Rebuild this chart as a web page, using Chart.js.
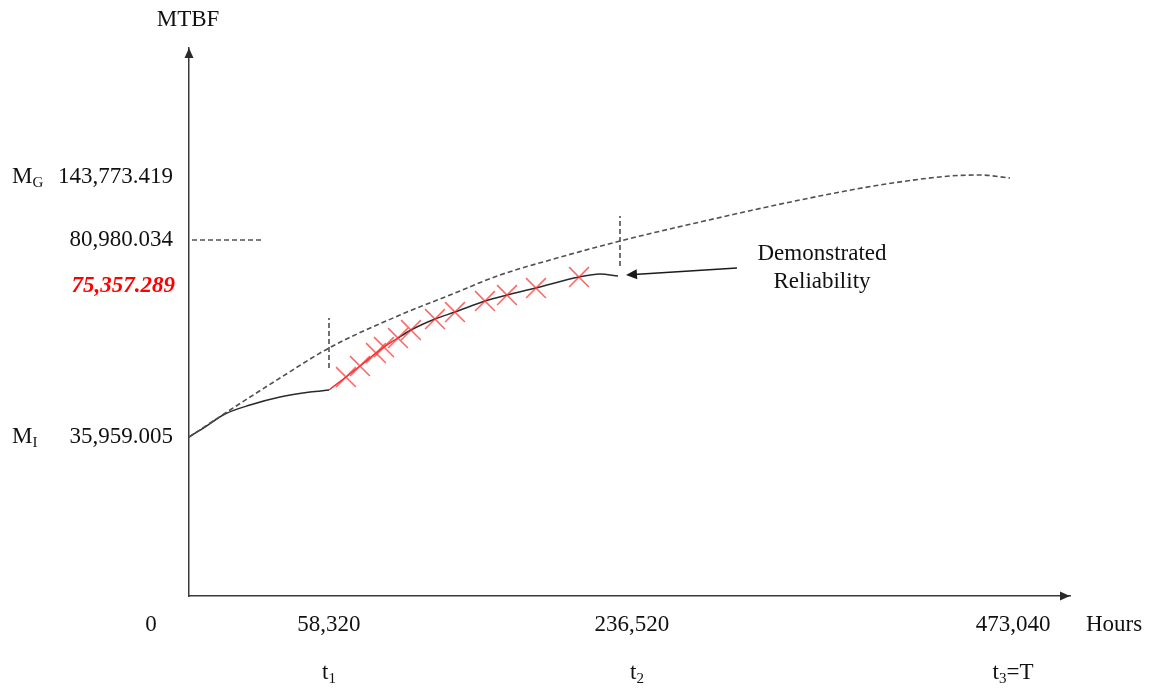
<!DOCTYPE html>
<html>
<head>
<meta charset="utf-8">
<script src="https://cdn.jsdelivr.net/npm/chart.js@4.4.0/dist/chart.umd.min.js"></script>
<style>
  html, body { margin: 0; padding: 0; background: #fff; }
</style>
</head>
<body>
<canvas id="chart" width="1150" height="690"></canvas>
<script>
// Reliability growth sketch: planned growth vs demonstrated MTBF

// axis marks
const hourMarks = [0, 58320, 236520, 473040];
const hourLabels = ['0', '58,320', '236,520', '473,040'];
const mtbfMarks = [0, 35959.005, 75357.289, 80980.034, 143773.419];
const mtbfLabels = ['', '35,959.005', '75,357.289', '80,980.034', '143,773.419'];

// planned growth curve (dashed)
const plannedHours = [0, 17079, 37908, 58320, 101798, 132417, 163035, 193654, 236520, 285037, 345683, 394200, 436652, 454846, 473040];
const plannedMtbf = [35959, 42566, 50397, 57738, 65814, 70708, 75513, 77856, 80824, 98921, 120849, 135800, 144054, 144335, 142777];

// initial phase up to t1
const initialHours = [0, 6665, 14997, 25411, 37908, 50405, 58320];
const initialMtbf = [35959, 38406, 41587, 43790, 45747, 46971, 47460];

// demonstrated curve after t1
const demoHours = [58320, 68730, 77303, 87101, 92000, 100574, 108534, 123231, 135479, 153850, 167322, 185081, 211413, 224272, 235300];
const demoMtbf = [47460, 50642, 53333, 56515, 57983, 60185, 62143, 64835, 66548, 69240, 70708, 72421, 75113, 75669, 75357];

// failures (red crosses)
const failHours = [68730, 77303, 87101, 92000, 100574, 108534, 123231, 135479, 153850, 167322, 185081, 211413];
const failMtbf = [50642, 53333, 56515, 57983, 60185, 62143, 64835, 66548, 69240, 70708, 72421, 75113];

// short dashed markers
const t1Mark = [52844, 65079];
const t2Mark = [76919, 104901];
const mark80980Hours = [1250, 31243];

// demonstrated reliability pointer (hours, MTBF)
const pointerFrom = [307476, 76607];
const pointerTo = [240159, 75513];

// The sketch is not drawn to scale: each mark sits at its own spot on the axis.
const xMax = 510000, yMax = 180000;
const xMarkPos = [0, 0.1589, 0.4892, 0.9319];
const yMarkPos = [0, 0.2901, 0.5839, 0.6496, 0.7646];
const warp = {
    x: { vals: [...hourMarks, xMax], pos: [...xMarkPos, 1] },
    y: { vals: [...mtbfMarks, yMax], pos: [...yMarkPos, 1] }
};

function lerpTable(v, from, to) {
    for (let i = 1; i < from.length; i++) {
        if (v <= from[i] || i === from.length - 1) {
            return to[i - 1] + (v - from[i - 1]) / (from[i] - from[i - 1]) * (to[i] - to[i - 1]);
        }
    }
}

class WarpedScale extends Chart.LinearScale {
    getPixelForValue(value) {
        if (value === null || value === undefined || isNaN(value)) return NaN;
        const w = warp[this.axis];
        return this.getPixelForDecimal(lerpTable(value, w.vals, w.pos));
    }
    getValueForPixel(pixel) {
        const w = warp[this.axis];
        return lerpTable(this.getDecimalForPixel(pixel), w.pos, w.vals);
    }
}
WarpedScale.id = 'warped';
Chart.register(WarpedScale);

const pts = (xs, ys) => xs.map((x, i) => ({ x, y: ys[i] }));

const FONT = '"Liberation Serif", "Times New Roman", serif';
const INK = '#111';

// draw text made of normal and subscript parts
function drawParts(ctx, parts, x, y, align) {
    const widths = parts.map(p => {
        ctx.font = (p.sub ? '15px ' : '23px ') + FONT;
        return ctx.measureText(p.t).width;
    });
    const total = widths.reduce((a, b) => a + b, 0);
    let cx = align === 'center' ? x - total / 2 : align === 'right' ? x - total : x;
    ctx.textAlign = 'left';
    ctx.textBaseline = 'middle';
    parts.forEach((p, i) => {
        ctx.font = (p.sub ? '15px ' : '23px ') + FONT;
        ctx.fillText(p.t, cx, p.sub ? y + 6 : y);
        cx += widths[i];
    });
}

const sketchPlugin = {
    id: 'sketch',
    afterDraw(chart) {
        const { ctx, chartArea: a, scales: { x, y } } = chart;
        ctx.save();
        ctx.fillStyle = '#2a2a2a';

        // axis arrowheads
        ctx.beginPath();
        ctx.moveTo(a.left, a.top);
        ctx.lineTo(a.left - 4.5, a.top + 10);
        ctx.lineTo(a.left + 4.5, a.top + 10);
        ctx.closePath();
        ctx.fill();
        ctx.beginPath();
        ctx.moveTo(a.right, a.bottom);
        ctx.lineTo(a.right - 10, a.bottom - 4.5);
        ctx.lineTo(a.right - 10, a.bottom + 4.5);
        ctx.closePath();
        ctx.fill();

        // pointer to the demonstrated curve
        const fx = x.getPixelForValue(pointerFrom[0]), fy = y.getPixelForValue(pointerFrom[1]);
        const tx = x.getPixelForValue(pointerTo[0]), ty = y.getPixelForValue(pointerTo[1]);
        const ang = Math.atan2(ty - fy, tx - fx);
        ctx.strokeStyle = '#1a1a1a';
        ctx.lineWidth = 1.3;
        ctx.beginPath();
        ctx.moveTo(fx, fy);
        ctx.lineTo(tx - Math.cos(ang) * 8, ty - Math.sin(ang) * 8);
        ctx.stroke();
        ctx.beginPath();
        ctx.moveTo(tx, ty);
        ctx.lineTo(tx - Math.cos(ang) * 11 + Math.sin(ang) * 5, ty - Math.sin(ang) * 11 - Math.cos(ang) * 5);
        ctx.lineTo(tx - Math.cos(ang) * 11 - Math.sin(ang) * 5, ty - Math.sin(ang) * 11 + Math.cos(ang) * 5);
        ctx.closePath();
        ctx.fillStyle = '#1a1a1a';
        ctx.fill();

        ctx.fillStyle = INK;
        ctx.font = '23px ' + FONT;
        ctx.textAlign = 'center';
        ctx.textBaseline = 'middle';
        ctx.fillText('Demonstrated', fx + 85, fy - 14);
        ctx.fillText('Reliability', fx + 85, fy + 14);

        // axis titles
        ctx.fillText('MTBF', a.left - 1, a.top - 28);
        ctx.textAlign = 'left';
        ctx.fillText('Hours', x.getPixelForValue(hourMarks[3]) + 76, a.bottom + 29);

        // y labels
        ctx.textAlign = 'right';
        const labelRight = a.left - 16;
        [1, 3, 4].forEach(i => {
            ctx.fillText(mtbfLabels[i], labelRight, y.getPixelForValue(mtbfMarks[i]));
        });
        ctx.fillStyle = '#ff0000';
        ctx.font = 'italic bold 23px ' + FONT;
        ctx.fillText(mtbfLabels[2], labelRight + 2, y.getPixelForValue(mtbfMarks[2]) + 10);

        ctx.fillStyle = INK;
        drawParts(ctx, [{ t: 'M' }, { t: 'G', sub: true }], 12, y.getPixelForValue(mtbfMarks[4]), 'left');
        drawParts(ctx, [{ t: 'M' }, { t: 'I', sub: true }], 12, y.getPixelForValue(mtbfMarks[1]), 'left');

        // x labels and phase names
        const xOff = [-38, 0, 12, 3];
        hourMarks.forEach((h, i) => {
            const px = x.getPixelForValue(h) + xOff[i];
            drawParts(ctx, [{ t: hourLabels[i] }], px, a.bottom + 29, 'center');
        });
        drawParts(ctx, [{ t: 't' }, { t: '1', sub: true }], x.getPixelForValue(hourMarks[1]), a.bottom + 77, 'center');
        drawParts(ctx, [{ t: 't' }, { t: '2', sub: true }], x.getPixelForValue(hourMarks[2]) + 17, a.bottom + 77, 'center');
        drawParts(ctx, [{ t: 't' }, { t: '3', sub: true }, { t: '=T' }], x.getPixelForValue(hourMarks[3]) + 3, a.bottom + 77, 'center');

        ctx.restore();
    }
};

const dashed = { borderColor: '#505050', borderWidth: 1.6, borderDash: [5, 3], pointRadius: 0, fill: false };

new Chart(document.getElementById('chart'), {
    type: 'line',
    data: {
        datasets: [{
            label: 'Failures',
            data: pts(failHours, failMtbf),
            showLine: false,
            pointStyle: 'crossRot',
            pointRadius: 14,
            pointBorderWidth: 1.5,
            pointBorderColor: 'rgba(255, 50, 50, 0.75)',
            order: 0
        }, {
            label: 'Planned growth',
            data: pts(plannedHours, plannedMtbf),
            ...dashed,
            cubicInterpolationMode: 'monotone',
            order: 1
        }, {
            label: 'Initial phase',
            data: pts(initialHours, initialMtbf),
            borderColor: '#2a2a2a',
            borderWidth: 1.5,
            pointRadius: 0,
            cubicInterpolationMode: 'monotone',
            order: 1
        }, {
            label: 'Demonstrated',
            data: pts(demoHours, demoMtbf),
            borderColor: '#2a2a2a',
            borderWidth: 1.5,
            pointRadius: 0,
            cubicInterpolationMode: 'monotone',
            segment: {
                borderColor: c => c.p1DataIndex <= 5 ? 'rgba(230, 30, 30, 0.9)' : '#2a2a2a'
            },
            order: 1
        }, {
            label: 't1',
            data: pts([hourMarks[1], hourMarks[1]], t1Mark),
            ...dashed,
            order: 1
        }, {
            label: 't2',
            data: pts([hourMarks[2], hourMarks[2]], t2Mark),
            ...dashed,
            order: 1
        }, {
            label: '80,980',
            data: pts(mark80980Hours, [mtbfMarks[3], mtbfMarks[3]]),
            ...dashed,
            order: 1
        }]
    },
    options: {
        responsive: false,
        animation: false,
        layout: { padding: { left: 189, right: 80, top: 48, bottom: 94 } },
        plugins: {
            legend: { display: false },
            tooltip: { enabled: false }
        },
        scales: {
            x: {
                type: 'warped',
                min: 0,
                max: xMax,
                grid: { display: false, drawTicks: false },
                ticks: { display: false },
                border: { color: '#3a3a3a', width: 1.5 }
            },
            y: {
                type: 'warped',
                min: 0,
                max: yMax,
                grid: { display: false, drawTicks: false },
                ticks: { display: false },
                border: { color: '#3a3a3a', width: 1.5 }
            }
        }
    },
    plugins: [sketchPlugin]
});
</script>
</body>
</html>
